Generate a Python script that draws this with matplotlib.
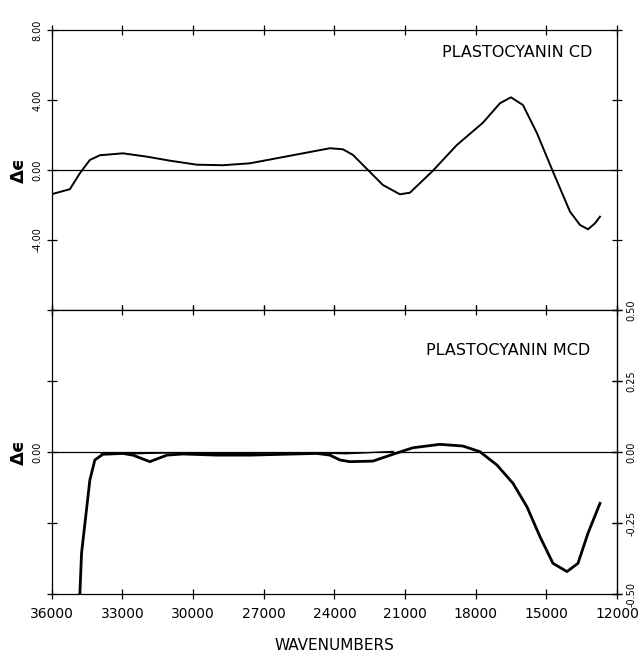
import matplotlib
matplotlib.use("Agg")
import matplotlib.pyplot as plt

# CD spectrum (top panel)
cd_wn = [35970, 35235, 34810, 34386, 33961, 32984, 31964, 30987, 29840, 28736,
         27589, 26442, 25338, 24190, 23638, 23213, 22576, 21939, 21217, 20792,
         19815, 18796, 17691, 16969, 16502, 15992, 15397, 14717, 13995, 13571,
         13231, 12934, 12722]
cd_de = [-1.37, -1.10, -0.19, 0.57, 0.84, 0.95, 0.76, 0.53, 0.30, 0.27,
         0.38, 0.67, 0.95, 1.24, 1.18, 0.86, 0.00, -0.86, -1.39, -1.30,
         -0.04, 1.43, 2.70, 3.81, 4.15, 3.71, 2.10, -0.10, -2.38, -3.14,
         -3.39, -3.05, -2.67]

# MCD spectrum (bottom panel)
mcd_wn = [34810, 34738, 34386, 34173, 33834, 32984, 32559, 31837, 31115, 30435,
          28991, 27589, 26187, 24743, 24190, 23766, 23341, 22364, 21514, 20664,
          19518, 18541, 17819, 17096, 16417, 15822, 15270, 14717, 14123, 13656,
          13231, 12722]
mcd_de = [-0.50, -0.356, -0.099, -0.028, -0.008, -0.005, -0.011, -0.034, -0.011, -0.007,
          -0.011, -0.011, -0.008, -0.005, -0.011, -0.028, -0.034, -0.032, -0.008, 0.015,
          0.027, 0.021, 0.001, -0.046, -0.110, -0.193, -0.298, -0.392, -0.421, -0.392,
          -0.286, -0.181]

# second overlapping scan near zero
scan2_wn = [33900, 32500, 31000, 29000, 27000, 25000, 23500, 22500, 21500]
scan2_de = [-0.004, -0.006, -0.003, -0.006, -0.004, -0.003, -0.006, -0.002, 0.002]

x_ticks = [36000, 33000, 30000, 27000, 24000, 21000, 18000, 15000, 12000]
cd_ticks = [8, 4, 0, -4]
cd_labels = ["8.00", "4.00", "0.00", "-4.00"]
mcd_ticks = [0.5, 0.25, 0, -0.25, -0.5]
mcd_left = ["", "", "0.00", "", ""]
mcd_right = ["0.50", "0.25", "0.00", "-0.25", "-0.50"]

fig = plt.figure(figsize=(6.4, 6.59), dpi=100)
ax1 = fig.add_axes([0.081, 0.5296, 0.883, 0.425])
ax2 = fig.add_axes([0.081, 0.0986, 0.883, 0.431])

for ax in (ax1, ax2):
    ax.set_xlim(36000, 12000)
    ax.set_xticks(x_ticks)
    ax.axhline(0, color="black", lw=0.9)
    for s in ax.spines.values():
        s.set_linewidth(0.9)
    ax.tick_params(direction="inout", length=7, width=0.9, top=True, right=True)

ax1.plot(cd_wn, cd_de, color="black", lw=1.4)
ax1.set_ylim(-8, 8)
ax1.set_yticks(cd_ticks)
ax1.set_yticklabels(cd_labels, rotation=90, va="center", fontsize=7)
ax1.tick_params(axis="x", labelbottom=False)
ax1.set_ylabel("Δϵ", fontsize=13, fontweight="bold", labelpad=3)
ax1.text(0.956, 0.921, "PLASTOCYANIN CD", transform=ax1.transAxes,
         ha="right", va="center", fontsize=11.5, color="black")

ax2.plot(scan2_wn, scan2_de, color="black", lw=1.0)
ax2.plot(mcd_wn, mcd_de, color="black", lw=2.0)
ax2.set_ylim(-0.5, 0.5)
ax2.set_yticks(mcd_ticks)
ax2.set_yticklabels(mcd_left, rotation=90, va="center", fontsize=7)
ax2r = ax2.secondary_yaxis("right")
ax2r.set_yticks(mcd_ticks)
ax2r.set_yticklabels(mcd_right, rotation=90, va="center", fontsize=7)
ax2r.tick_params(direction="inout", length=7, width=0.9)
ax2.set_xticklabels([str(v) for v in x_ticks], fontsize=10)
ax2.tick_params(axis="x", pad=6)
ax2.set_ylabel("Δϵ", fontsize=13, fontweight="bold", labelpad=3)
ax2.set_xlabel("WAVENUMBERS", fontsize=11, labelpad=12)
ax2.text(0.952, 0.859, "PLASTOCYANIN MCD", transform=ax2.transAxes,
         ha="right", va="center", fontsize=11.5, color="black")

fig.savefig("out.png", dpi=100)
